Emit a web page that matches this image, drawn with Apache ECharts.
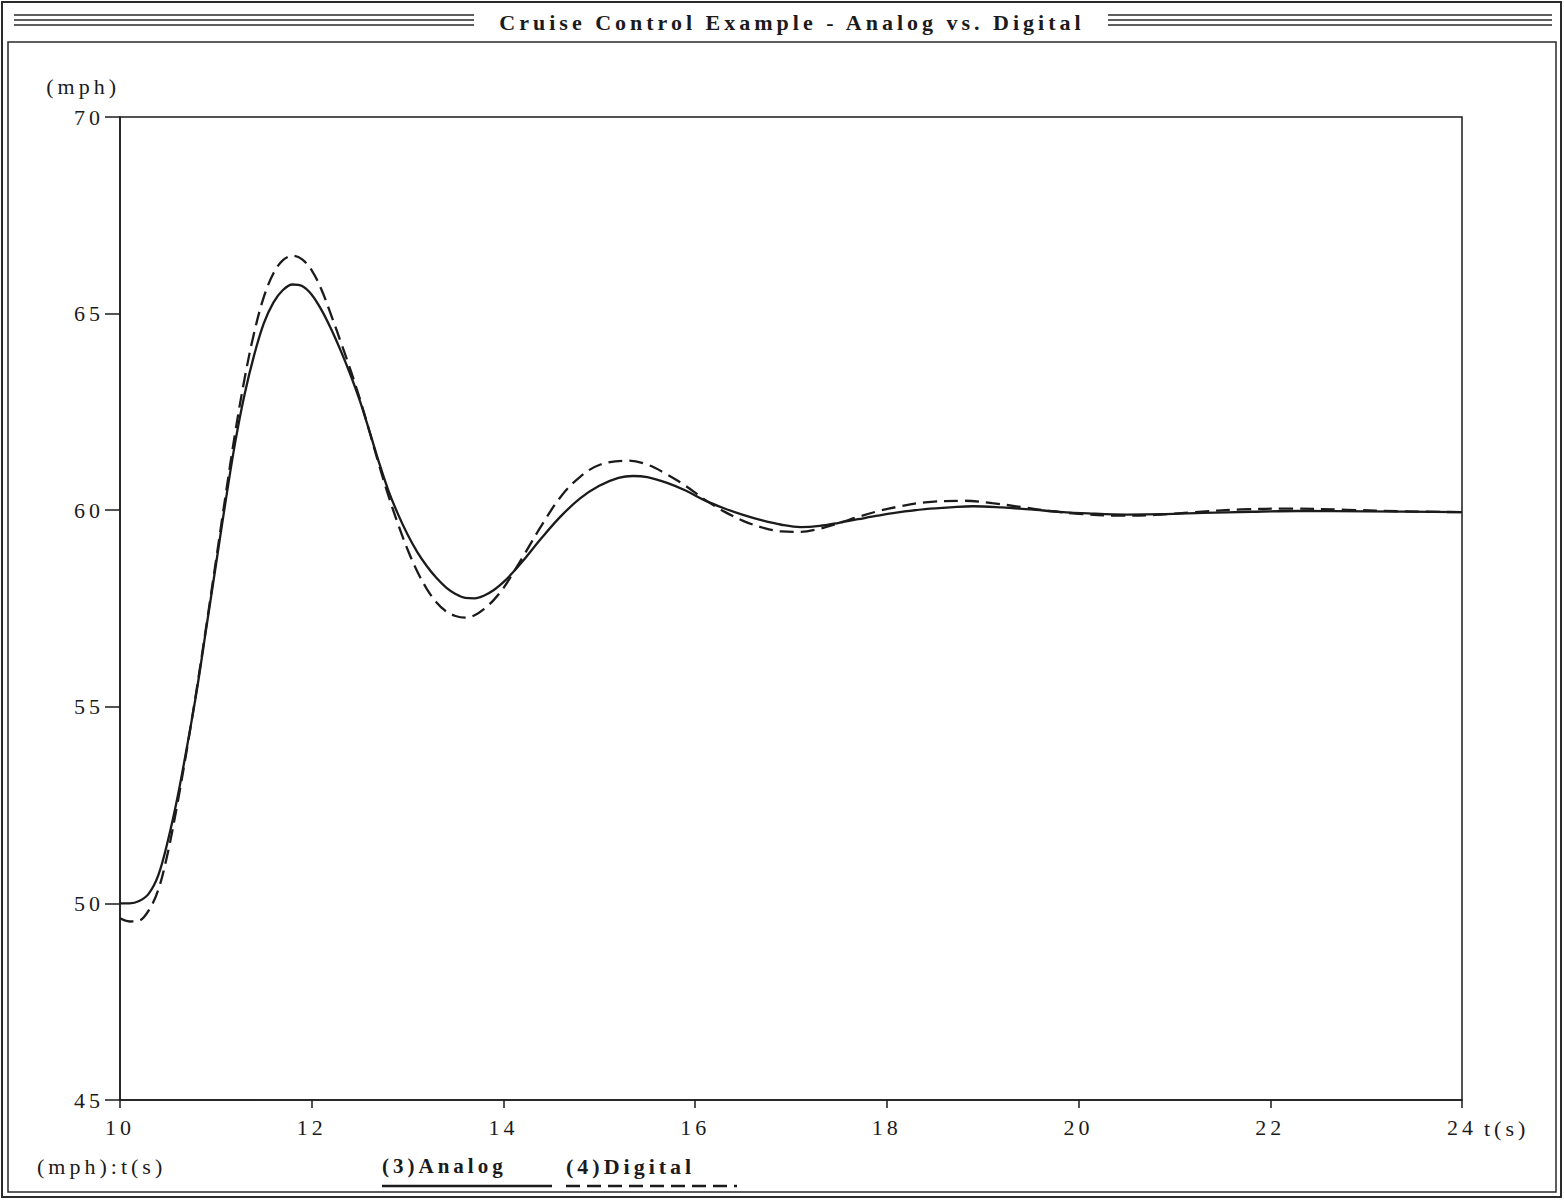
<!DOCTYPE html>
<html>
<head>
<meta charset="utf-8">
<script src="https://cdn.jsdelivr.net/npm/echarts@6/dist/echarts.min.js"></script>
<style>
  html, body { margin: 0; padding: 0; background: #fff; }
  #chart { width: 1564px; height: 1200px; }
  #chart text { letter-spacing: 4px; }
</style>
</head>
<body>
<div id="chart"></div>
<script>
// ---- data ----
const titleText = 'Cruise Control Example - Analog vs. Digital';
const xTicks = [10, 12, 14, 16, 18, 20, 22, 24];
const yTicks = [45, 50, 55, 60, 65, 70];

const timeAnalog = [10.0,10.1,10.2,10.3,10.4,10.5,10.6,10.7,10.8,10.9,11.0,11.1,11.2,11.3,11.4,11.5,11.6,11.7,11.8,11.9,
  12.0,12.1,12.2,12.3,12.4,12.5,12.6,12.7,12.8,12.9,13.0,13.1,13.2,13.3,13.4,13.5,13.6,13.7,13.8,13.9,
  14.0,14.1,14.2,14.4,14.6,14.8,15.0,15.2,15.35,15.5,15.7,15.9,16.1,16.3,16.5,16.7,16.9,17.1,17.3,17.5,
  17.7,17.9,18.1,18.4,18.7,18.9,19.2,19.5,19.8,20.1,20.5,20.9,21.3,21.8,22.3,23.0,24.0];
const speedAnalog = [50.0,50.0,50.06,50.25,50.72,51.6,52.7,54.0,55.4,57.0,58.6,60.2,61.7,62.95,63.95,64.75,65.28,65.6,65.74,65.7,
  65.48,65.1,64.62,64.07,63.47,62.8,62.03,61.23,60.5,59.9,59.38,58.94,58.58,58.28,58.04,57.87,57.77,57.76,57.83,57.97,
  58.17,58.42,58.7,59.3,59.85,60.3,60.62,60.82,60.87,60.84,60.7,60.5,60.25,60.05,59.88,59.74,59.63,59.57,59.6,59.68,
  59.77,59.86,59.94,60.03,60.08,60.1,60.07,60.02,59.96,59.92,59.89,59.9,59.93,59.96,59.98,59.97,59.95];

const timeDigital = [10.0,10.1,10.2,10.3,10.4,10.5,10.6,10.7,10.8,10.9,11.0,11.1,11.2,11.3,11.4,11.5,11.6,11.7,11.8,11.9,
  12.0,12.1,12.2,12.3,12.4,12.5,12.6,12.7,12.8,12.9,13.0,13.1,13.2,13.3,13.4,13.5,13.6,13.7,13.8,13.9,
  14.0,14.1,14.2,14.4,14.6,14.8,15.0,15.3,15.5,15.7,15.9,16.1,16.3,16.5,16.7,16.9,17.1,17.3,17.5,17.7,
  17.9,18.1,18.4,18.8,19.1,19.4,19.7,20.0,20.4,20.8,21.2,21.7,22.2,22.8,23.4,24.0];
const speedDigital = [49.62,49.54,49.56,49.82,50.35,51.3,52.55,53.95,55.45,57.05,58.7,60.35,61.95,63.35,64.52,65.42,66.02,66.36,66.47,66.38,
  66.1,65.62,64.98,64.3,63.6,62.85,62.02,61.17,60.37,59.65,59.0,58.45,58.0,57.66,57.43,57.31,57.27,57.33,57.49,57.72,
  58.02,58.4,58.8,59.62,60.35,60.85,61.15,61.26,61.16,60.92,60.62,60.27,59.97,59.73,59.56,59.46,59.45,59.53,59.67,59.83,
  59.97,60.08,60.2,60.24,60.18,60.08,59.98,59.91,59.86,59.88,59.95,60.02,60.04,60.01,59.97,59.95];

const seriesNames = ['(3)Analog', '(4)Digital'];
const yUnit = '(mph)';
const xUnit = 't(s)';
const axesNote = '(mph):t(s)';

// ---- chart ----
const FONT = '"Liberation Serif", "DejaVu Serif", serif';
const INK = '#1b1b1b';
const chart = echarts.init(document.getElementById('chart'), null, { renderer: 'svg' });

const pairs = (xs, ys) => xs.map((x, i) => [x, ys[i]]);

const option = {
  backgroundColor: '#ffffff',
  animation: false,
  grid: { left: 120, right: 102, top: 117, bottom: 100, show: true, borderColor: INK, borderWidth: 1.5, backgroundColor: 'transparent' },
  xAxis: {
    type: 'value', min: xTicks[0], max: xTicks[xTicks.length - 1], interval: 2,
    name: xUnit, nameLocation: 'end', nameGap: 22,
    nameTextStyle: { fontFamily: FONT, fontSize: 22, color: INK, verticalAlign: 'top', padding: [17, 0, 0, 0] },
    axisLine: { show: true, lineStyle: { color: INK, width: 1.5 } },
    axisTick: { show: true, inside: false, length: 8, lineStyle: { color: INK, width: 1.5 } },
    axisLabel: { margin: 16, fontFamily: FONT, fontSize: 22, color: INK, formatter: v => String(v) },
    splitLine: { show: false }
  },
  yAxis: {
    type: 'value', min: yTicks[0], max: yTicks[yTicks.length - 1], interval: 5,
    name: yUnit, nameLocation: 'end', nameGap: 20,
    nameTextStyle: { fontFamily: FONT, fontSize: 22, color: INK, align: 'right', verticalAlign: 'bottom' },
    axisLine: { show: true, lineStyle: { color: INK, width: 1.5 } },
    axisTick: { show: true, inside: false, length: 15, lineStyle: { color: INK, width: 1.5 } },
    axisLabel: { margin: 16, fontFamily: FONT, fontSize: 22, color: INK },
    splitLine: { show: false }
  },
  series: [
    {
      name: seriesNames[0], type: 'line', data: pairs(timeAnalog, speedAnalog),
      smooth: 0.35, showSymbol: false, silent: true,
      lineStyle: { color: INK, width: 2.3, type: 'solid' }
    },
    {
      name: seriesNames[1], type: 'line', data: pairs(timeDigital, speedDigital),
      smooth: 0.35, showSymbol: false, silent: true,
      lineStyle: { color: INK, width: 2.3, type: [14, 7] }
    }
  ],
  graphic: [
    { type: 'rect', shape: { x: 2, y: 2, width: 1559, height: 1195 }, style: { fill: null, stroke: '#2a2a2a', lineWidth: 2 }, silent: true },
    { type: 'rect', shape: { x: 8, y: 42, width: 1548, height: 1150 }, style: { fill: null, stroke: '#2a2a2a', lineWidth: 1.5 }, silent: true },
    { type: 'line', shape: { x1: 14, y1: 15, x2: 474, y2: 15 }, style: { stroke: '#2a2a2a', lineWidth: 1.6 }, silent: true },
    { type: 'line', shape: { x1: 14, y1: 20, x2: 474, y2: 20 }, style: { stroke: '#2a2a2a', lineWidth: 1.6 }, silent: true },
    { type: 'line', shape: { x1: 14, y1: 25, x2: 474, y2: 25 }, style: { stroke: '#2a2a2a', lineWidth: 1.6 }, silent: true },
    { type: 'line', shape: { x1: 1108, y1: 15, x2: 1552, y2: 15 }, style: { stroke: '#2a2a2a', lineWidth: 1.6 }, silent: true },
    { type: 'line', shape: { x1: 1108, y1: 20, x2: 1552, y2: 20 }, style: { stroke: '#2a2a2a', lineWidth: 1.6 }, silent: true },
    { type: 'line', shape: { x1: 1108, y1: 25, x2: 1552, y2: 25 }, style: { stroke: '#2a2a2a', lineWidth: 1.6 }, silent: true },
    { type: 'text', x: 792, y: 22, style: { text: titleText, font: 'bold 22px ' + FONT, fill: INK, align: 'center', verticalAlign: 'middle' }, silent: true },
    { type: 'text', x: 37, y: 1166, style: { text: axesNote, font: '22px ' + FONT, fill: INK, align: 'left', verticalAlign: 'middle' }, silent: true },
    { type: 'text', x: 382, y: 1166, style: { text: seriesNames[0], font: 'bold 21px ' + FONT, fill: INK, align: 'left', verticalAlign: 'middle' }, silent: true },
    { type: 'line', shape: { x1: 382, y1: 1186, x2: 552, y2: 1186 }, style: { stroke: INK, lineWidth: 2.3 }, silent: true },
    { type: 'text', x: 566, y: 1166, style: { text: seriesNames[1], font: 'bold 22px ' + FONT, fill: INK, align: 'left', verticalAlign: 'middle' }, silent: true },
    { type: 'line', shape: { x1: 566, y1: 1186, x2: 737, y2: 1186 }, style: { stroke: INK, lineWidth: 2.3, lineDash: [14, 7] }, silent: true }
  ]
};
chart.setOption(option);
</script>
</body>
</html>
